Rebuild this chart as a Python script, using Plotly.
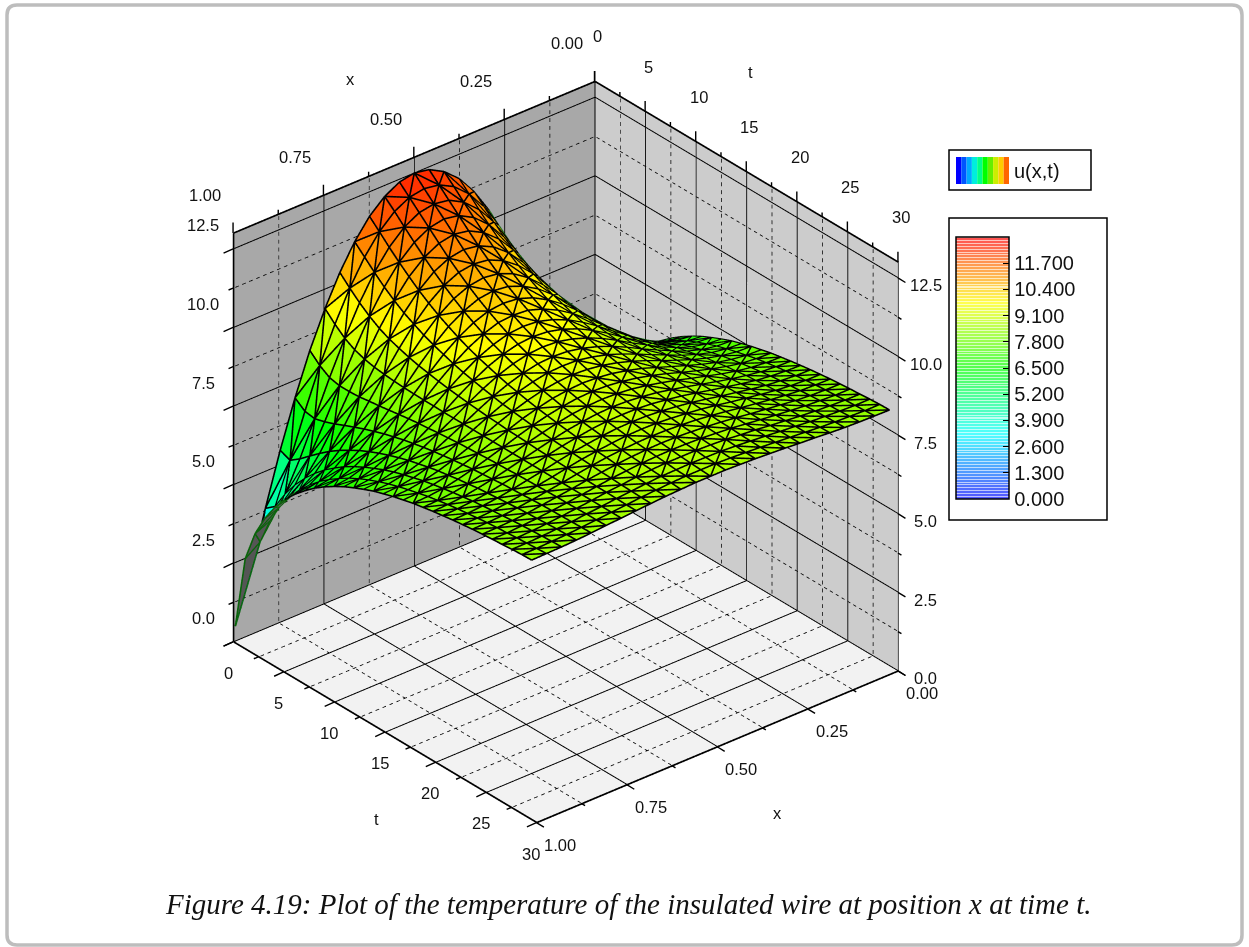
import numpy as np
import plotly.graph_objects as go

W, H = 1249, 947

# ---- data ----
x_nodes = [0.005, 0.046, 0.088, 0.129, 0.170, 0.211, 0.253, 0.294, 0.335, 0.376, 0.418, 0.459, 0.500,
           0.541, 0.582, 0.624, 0.665, 0.706, 0.747, 0.789, 0.830, 0.871, 0.912, 0.954, 0.995]
t_nodes = [0.00, 0.98, 1.95, 2.93, 3.91, 4.88, 5.86, 6.84, 7.81, 8.79, 9.77, 10.75, 11.72, 12.70, 13.68, 14.65,
           15.63, 16.61, 17.58, 18.56, 19.54, 20.51, 21.49, 22.47, 23.44, 24.42, 25.40, 26.37, 27.35, 28.33, 29.30]
# temperature along x from the wire end to mid-wire (the curve is symmetric about the middle)
u_rows = [
 [0.47,2.00,3.82,5.47,6.94,8.25,9.38,10.33,11.11,11.72,12.15,12.41,12.50],
 [2.81,3.15,4.07,5.34,6.70,7.96,9.07,10.02,10.81,11.42,11.86,12.11,12.19],
 [3.79,4.01,4.64,5.57,6.65,7.76,8.81,9.74,10.51,11.11,11.55,11.81,11.89],
 [4.47,4.64,5.12,5.85,6.74,7.69,8.63,9.50,10.23,10.82,11.25,11.51,11.60],
 [5.00,5.13,5.52,6.12,6.86,7.69,8.52,9.30,9.99,10.55,10.96,11.21,11.30],
 [5.43,5.54,5.86,6.37,7.00,7.71,8.45,9.15,9.78,10.30,10.69,10.92,11.00],
 [5.79,5.88,6.16,6.59,7.13,7.76,8.41,9.04,9.61,10.08,10.44,10.66,10.73],
 [6.09,6.18,6.41,6.78,7.26,7.80,8.38,8.94,9.45,9.88,10.21,10.41,10.48],
 [6.36,6.43,6.64,6.96,7.37,7.85,8.36,8.86,9.32,9.71,10.00,10.19,10.25],
 [6.59,6.65,6.83,7.11,7.48,7.90,8.35,8.80,9.21,9.55,9.82,9.99,10.04],
 [6.79,6.85,7.00,7.25,7.57,7.95,8.34,8.74,9.10,9.41,9.65,9.81,9.85],
 [6.97,7.02,7.15,7.37,7.66,7.99,8.34,8.69,9.01,9.29,9.50,9.64,9.68],
 [7.12,7.17,7.29,7.48,7.73,8.02,8.33,8.65,8.94,9.19,9.38,9.50,9.54],
 [7.26,7.30,7.41,7.58,7.80,8.06,8.33,8.61,8.87,9.09,9.26,9.37,9.40],
 [7.39,7.42,7.51,7.66,7.86,8.09,8.33,8.58,8.81,9.00,9.15,9.25,9.28],
 [7.49,7.52,7.60,7.74,7.91,8.12,8.33,8.55,8.75,8.93,9.06,9.15,9.17],
 [7.59,7.61,7.69,7.81,7.96,8.14,8.33,8.53,8.71,8.86,8.98,9.05,9.08],
 [7.67,7.69,7.76,7.86,8.00,8.16,8.33,8.50,8.67,8.80,8.91,8.97,9.00],
 [7.75,7.77,7.82,7.92,8.04,8.18,8.33,8.49,8.63,8.75,8.84,8.90,8.92],
 [7.81,7.83,7.88,7.96,8.07,8.20,8.33,8.47,8.59,8.70,8.79,8.84,8.86],
 [7.87,7.89,7.93,8.01,8.10,8.21,8.33,8.45,8.56,8.66,8.73,8.78,8.80],
 [7.92,7.94,7.98,8.04,8.13,8.23,8.33,8.44,8.54,8.62,8.69,8.73,8.74],
 [7.97,7.98,8.02,8.07,8.15,8.24,8.33,8.43,8.52,8.59,8.65,8.69,8.70],
 [8.01,8.02,8.05,8.10,8.17,8.25,8.33,8.42,8.50,8.56,8.61,8.65,8.66],
 [8.05,8.06,8.08,8.13,8.19,8.26,8.33,8.41,8.48,8.54,8.58,8.61,8.62],
 [8.08,8.09,8.11,8.15,8.21,8.27,8.33,8.40,8.46,8.51,8.55,8.58,8.59],
 [8.11,8.11,8.14,8.17,8.22,8.27,8.33,8.39,8.45,8.49,8.53,8.55,8.56],
 [8.13,8.14,8.16,8.19,8.23,8.28,8.33,8.39,8.43,8.48,8.51,8.53,8.53],
 [8.16,8.16,8.18,8.21,8.24,8.29,8.33,8.38,8.42,8.46,8.49,8.50,8.51],
 [8.18,8.18,8.20,8.22,8.25,8.29,8.33,8.37,8.41,8.44,8.47,8.49,8.49],
 [8.19,8.20,8.21,8.23,8.26,8.30,8.33,8.37,8.40,8.43,8.45,8.47,8.47],
]
x_major = [0.0, 0.25, 0.5, 0.75, 1.0]
x_labels = ["0.00", "0.25", "0.50", "0.75", "1.00"]
x_minor = [0.125, 0.375, 0.625, 0.875]
t_major = [0, 5, 10, 15, 20, 25, 30]
t_minor = [2.5, 7.5, 12.5, 17.5, 22.5, 27.5]
z_major = [0.0, 2.5, 5.0, 7.5, 10.0, 12.5]
z_minor = [1.25, 3.75, 6.25, 8.75, 11.25]
cbar_vals = [0.0, 1.3, 2.6, 3.9, 5.2, 6.5, 7.8, 9.1, 10.4, 11.7]
swatch_colors = ["#0000ff", "#0055ff", "#00aaff", "#00eedd", "#00ff88", "#00ff00", "#66ee00", "#ccee00", "#ffcc00", "#ff6600"]
rainbow = ["#0000ff", "#00ffff", "#00ff00", "#ffff00", "#ff0000"]
surface_stops = [0.0, 0.25, 0.5, 0.725, 1.0]
caption = "<i>Figure 4.19: Plot of the temperature of the insulated wire at position x at time t.</i>"

XR, TR, ZR = (0.0, 1.0), (0.0, 30.0), (0.0, 13.0)
FONT = "Liberation Sans"
EYE_R = 2.0
CUBE = 1.0726
el, az = np.radians(30.0), np.radians(50.0)
view = np.array([np.cos(el) * np.cos(az), np.cos(el) * np.sin(az), np.sin(el)])

# grid
xg = np.array(x_nodes)
tg = np.array(t_nodes)
U = np.array([r + r[-2::-1] for r in u_rows])
nt, nx = U.shape
idx = lambda i, j: i * nx + j
X, T = np.meshgrid(xg, tg)
vx, vy, vz = X.ravel(), T.ravel(), U.ravel()

tris = []
for i in range(nt - 1):
    for j in range(nx - 1):
        a, b, c, d = idx(i, j), idx(i, j + 1), idx(i + 1, j + 1), idx(i + 1, j)
        xm = 0.5 * (xg[j] + xg[j + 1])
        tm = 0.5 * (tg[i] + tg[i + 1])
        if tm > 30 - 26 * abs(xm - 0.5):
            split_bd = True  # diamonds, as in the far flat part of the surface
        else:
            split_bd = (i + j) % 2 == 1
        if split_bd:
            tris += [(a, b, d), (b, c, d)]
        else:
            tris += [(a, b, c), (a, c, d)]
tris = np.array(tris)

# which triangles face away from the viewer
P = np.c_[vx / (XR[1] - XR[0]), vy / (TR[1] - TR[0]), vz / (ZR[1] - ZR[0])]
n = np.cross(P[tris[:, 1]] - P[tris[:, 0]], P[tris[:, 2]] - P[tris[:, 0]])
back = (n @ view) * np.sign(n[:, 2] + 1e-12) < 0
front = ~back


def mesh_edges(tri_list, lift):
    seen = set()
    ox, oy, oz = [], [], []
    d = view * lift * np.array([XR[1], TR[1], ZR[1]])
    for tri in tri_list:
        for p, q in ((tri[0], tri[1]), (tri[1], tri[2]), (tri[2], tri[0])):
            k = (min(p, q), max(p, q))
            if k in seen:
                continue
            seen.add(k)
            ox += [vx[p] + d[0], vx[q] + d[0], None]
            oy += [vy[p] + d[1], vy[q] + d[1], None]
            oz += [vz[p] + d[2], vz[q] + d[2], None]
    return ox, oy, oz


rs = list(zip(surface_stops, rainbow))
fig = go.Figure()
flat = dict(ambient=1.0, diffuse=0.0, specular=0.0, roughness=1.0, fresnel=0.0)
fig.add_trace(go.Mesh3d(x=vx, y=vy, z=vz, i=tris[front, 0], j=tris[front, 1], k=tris[front, 2],
                        intensity=vz[tris[front]].mean(axis=1), intensitymode="cell",
                        colorscale=rs, cmin=ZR[0], cmax=ZR[1], showscale=False,
                        flatshading=True, lighting=flat, hoverinfo="skip"))
if back.any():
    fig.add_trace(go.Mesh3d(x=vx, y=vy, z=vz, i=tris[back, 0], j=tris[back, 1], k=tris[back, 2],
                            color="#555555", flatshading=True, lighting=flat, hoverinfo="skip"))
ox, oy, oz = mesh_edges(tris[front], 0.003)
fig.add_trace(go.Scatter3d(x=ox, y=oy, z=oz, mode="lines", line=dict(color="black", width=3.2), hoverinfo="skip"))
if back.any():
    ox, oy, oz = mesh_edges(tris[back], 0.004)
    fig.add_trace(go.Scatter3d(x=ox, y=oy, z=oz, mode="lines", line=dict(color="#0a640a", width=3.2), hoverinfo="skip"))


def segs(items):
    ox, oy, oz = [], [], []
    for (a, b) in items:
        ox += [a[0], b[0], None]
        oy += [a[1], b[1], None]
        oz += [a[2], b[2], None]
    return ox, oy, oz


def dashes(items, periods=52, on=0.5):
    out = []
    for (a, b) in items:
        a, b = np.array(a, float), np.array(b, float)
        for m in range(periods):
            s0, s1 = (m + 0.25) / periods, (m + 0.25 + on) / periods
            out.append((tuple(a + (b - a) * s0), tuple(a + (b - a) * s1)))
    return out


x0, x1 = XR
t0, t1 = TR
z0, z1 = ZR
minor, major = [], []
for lst, v_list in ((minor, x_minor), (major, x_major)):
    for v in v_list:
        lst += [((v, t0, z0), (v, t0, z1)), ((v, t0, z0), (v, t1, z0))]
for lst, v_list in ((minor, t_minor), (major, t_major)):
    for v in v_list:
        lst += [((x0, v, z0), (x0, v, z1)), ((x0, v, z0), (x1, v, z0))]
for lst, v_list in ((minor, z_minor), (major, z_major)):
    for v in v_list:
        lst += [((x0, t0, v), (x1, t0, v)), ((x0, t0, v), (x0, t1, v))]
ox, oy, oz = segs(dashes(minor))
fig.add_trace(go.Scatter3d(x=ox, y=oy, z=oz, mode="lines", line=dict(color="black", width=1.6), hoverinfo="skip"))
ox, oy, oz = segs(major)
fig.add_trace(go.Scatter3d(x=ox, y=oy, z=oz, mode="lines", line=dict(color="black", width=2), hoverinfo="skip"))

heavy = [((x1, t0, z0), (x1, t1, z0)), ((x1, t1, z0), (x0, t1, z0)), ((x1, t0, z0), (x1, t0, z1)),
         ((x1, t0, z1), (x0, t0, z1)), ((x0, t0, z1), (x0, t1, z1)), ((x0, t0, z0), (x0, t0, z1))]
ox, oy, oz = segs(heavy)
fig.add_trace(go.Scatter3d(x=ox, y=oy, z=oz, mode="lines", line=dict(color="black", width=3.4), hoverinfo="skip"))
ox, oy, oz = segs([((x0, t1, z0), (x0, t1, z1))])
fig.add_trace(go.Scatter3d(x=ox, y=oy, z=oz, mode="lines", line=dict(color="#444444", width=2), hoverinfo="skip"))


# colour bar with the striped look of the reference
def hex2rgb(h):
    return np.array([int(h[i:i + 2], 16) for i in (1, 3, 5)], float)


def rainbow_at(f):
    p = min(f * 4, 3.9999)
    k = int(p)
    return hex2rgb(rainbow[k]) * (1 - (p - k)) + hex2rgb(rainbow[k + 1]) * (p - k)


stripes = []
NB = 90
for b in range(NB):
    base = rainbow_at((b + 0.5) / NB)
    pale = base * 0.68 + 255 * 0.32
    line = base * 0.25 + 255 * 0.75
    s0, s1, s2 = b / NB, (b + 0.65) / NB, (b + 1) / NB
    pc = f"rgb({pale[0]:.0f},{pale[1]:.0f},{pale[2]:.0f})"
    lc = f"rgb({line[0]:.0f},{line[1]:.0f},{line[2]:.0f})"
    stripes += [(s0, pc), (s1, pc), (s1, lc), (s2, lc)]

fig.add_trace(go.Scatter3d(
    x=[0.5, 0.5], y=[15, 15], z=[6, 7], mode="markers", hoverinfo="skip",
    marker=dict(size=1, opacity=0, color=[ZR[0], ZR[1]], cmin=ZR[0], cmax=ZR[1], colorscale=stripes, showscale=True,
                colorbar=dict(x=956 / W, xanchor="left", xpad=0, ypad=0, thickness=53, thicknessmode="pixels",
                              len=262, lenmode="pixels", y=1 - 368 / H, yanchor="middle",
                              outlinecolor="black", outlinewidth=1.5, tickmode="array", tickvals=cbar_vals,
                              ticktext=[f"{v:.3f}" for v in cbar_vals], ticks="inside", ticklen=6, tickcolor="black",
                              tickfont=dict(family=FONT, size=20, color="#111111")))))

# outward tick marks and labels (placed in data space; offsets in pixels)
ann = []
LAB = dict(showarrow=False, xanchor="center", yanchor="middle", font=dict(family=FONT, size=16.5, color="#111111"))


def tick(p, ax, ay):
    ann.append(dict(x=p[0], y=p[1], z=p[2], text="", showarrow=True, arrowhead=0, arrowwidth=1.4, arrowcolor="black",
                    ax=ax, ay=ay, standoff=0, startstandoff=0))


def label(p, s, dx, dy):
    ann.append(dict(x=p[0], y=p[1], z=p[2], text=s, xshift=dx, yshift=-dy, **LAB))


for v, s in zip(x_major, x_labels):
    tick((v, t1, z0), 9, 5.5)
    tick((v, t0, z1), 0, -12)
    label((v, t1, z0), s, 24, 22.5)
    label((v, t0, z1), s, -28, -38)
for v in x_minor:
    tick((v, t1, z0), 5, 3)
    tick((v, t0, z1), 0, -6)
for v in t_major:
    tick((x1, v, z0), -11, 5)
    tick((x0, v, z1), 0, -12)
    label((x1, v, z0), str(v), -5, 31)
    label((x0, v, z1), str(v), 3, -45)
for v in t_minor:
    tick((x1, v, z0), -6, 2.5)
    tick((x0, v, z1), 0, -6)
for v in z_major:
    tick((x1, t0, v), -11, 5)
    tick((x0, t1, v), 9, 5.5)
    label((x1, t0, v), f"{v:.1f}", -30, -23.5)
    label((x0, t1, v), f"{v:.1f}", 28, 7.5)
for v in z_minor:
    tick((x1, t0, v), -6, 2.5)
    tick((x0, t1, v), 5, 3)
label((0.5, t1, z0), "x", 60, 66)
label((0.5, t0, z1), "x", -63, -78)
label((x1, 15, z0), "t", -8, 87)
label((x0, 15, z1), "t", 4.5, -100)

axis = dict(showticklabels=False, ticks="", showline=False, zeroline=False, showspikes=False, title=dict(text=""),
            showgrid=False, showbackground=True, autorange=False)

# layout shapes (paper coordinates from pixel boxes)
px = lambda v: v / W
py = lambda v: 1 - v / H
shapes = []


def box(x_a, y_a, x_b, y_b, fill=None, lw=1.5, color="black"):
    shapes.append(dict(type="rect", xref="paper", yref="paper", x0=px(x_a), x1=px(x_b), y0=py(y_a), y1=py(y_b),
                       line=dict(color=color, width=lw), fillcolor=fill or "rgba(0,0,0,0)", layer="above"))


# page frame
r = 10
L, R_, Tp, B = 7, 1242, 5, 945
frame = (f"M {px(L + r)} {py(Tp)} L {px(R_ - r)} {py(Tp)} Q {px(R_)} {py(Tp)} {px(R_)} {py(Tp + r)} "
         f"L {px(R_)} {py(B - r)} Q {px(R_)} {py(B)} {px(R_ - r)} {py(B)} L {px(L + r)} {py(B)} "
         f"Q {px(L)} {py(B)} {px(L)} {py(B - r)} L {px(L)} {py(Tp + r)} Q {px(L)} {py(Tp)} {px(L + r)} {py(Tp)} Z")
shapes.append(dict(type="path", xref="paper", yref="paper", path=frame, line=dict(color="#bdbdbd", width=3.5), layer="above"))
box(949, 150, 1091, 190)
box(949, 218, 1107, 520)
sw = 53.0 / len(swatch_colors)
for n_, c in enumerate(swatch_colors):
    shapes.append(dict(type="rect", xref="paper", yref="paper", x0=px(956 + n_ * sw), x1=px(956 + (n_ + 1) * sw),
                       y0=py(157), y1=py(184), line=dict(width=0), fillcolor=c, layer="above"))
for v in cbar_vals[1:]:
    yy = 499 - v / ZR[1] * 262
    shapes.append(dict(type="line", xref="paper", yref="paper", x0=px(956), x1=px(962), y0=py(yy), y1=py(yy),
                       line=dict(color="black", width=1), layer="above"))

cx, cy = 565.5, 452.0
hw, hh = 460.0, 440.0
fig.update_layout(
    width=W, height=H, margin=dict(l=0, r=0, t=0, b=0, pad=0), paper_bgcolor="white", showlegend=False,
    shapes=shapes,
    annotations=[
        dict(xref="paper", yref="paper", x=px(1012), y=py(171), text="u(x,t)", showarrow=False, xanchor="left", yanchor="middle",
             font=dict(family=FONT, size=20, color="#111111")),
        dict(xref="paper", yref="paper", x=px(628), y=py(904), text=caption, showarrow=False, xanchor="center", yanchor="middle",
             font=dict(family="Liberation Serif", size=29, color="#111111")),
    ],
    scene=dict(
        domain=dict(x=[px(cx - hw), px(cx + hw)], y=[py(cy + hh), py(cy - hh)]),
        aspectmode="manual", aspectratio=dict(x=CUBE, y=CUBE, z=CUBE),
        camera=dict(eye=dict(x=float(view[0] * EYE_R), y=float(view[1] * EYE_R), z=float(view[2] * EYE_R)),
                    center=dict(x=0, y=0, z=0), up=dict(x=0, y=0, z=1), projection=dict(type="orthographic")),
        xaxis=dict(axis, range=list(XR), backgroundcolor="#cccccc"),
        yaxis=dict(axis, range=list(TR), backgroundcolor="#a8a8a8"),
        zaxis=dict(axis, range=list(ZR), backgroundcolor="#f2f2f2"),
        annotations=ann,
    ),
)
fig.write_html("out.html", config=dict(displayModeBar=False),
               post_script="document.body.style.margin='0';")
